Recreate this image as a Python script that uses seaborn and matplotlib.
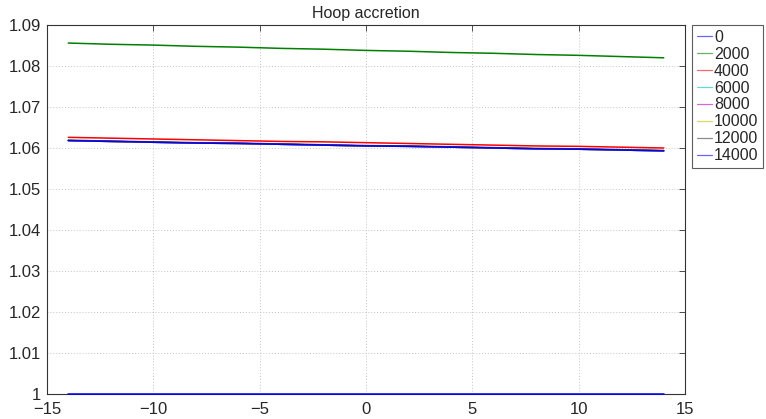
import numpy as np
import pandas as pd
import seaborn as sns
import matplotlib
matplotlib.use("Agg")
import matplotlib.pyplot as plt
from matplotlib.lines import Line2D

sns.set_style("white")
plt.rcParams["font.family"] = ["Liberation Sans", "DejaVu Sans"]

# Hoop accretion per load case, sampled across the position range
positions = [-14, -12, -10, -8, -6, -4, -2, 0, 2, 4, 6, 8, 10, 12, 14]
load_cases = ["0", "2000", "4000", "6000", "8000", "10000", "12000", "14000"]

hoop_0 = [1.0000] * 15
hoop_2000 = [1.0856, 1.0853, 1.0851, 1.0848, 1.0846, 1.0843, 1.0841, 1.0838,
             1.0836, 1.0833, 1.0831, 1.0828, 1.0826, 1.0823, 1.0820]
hoop_4000 = [1.0626, 1.0624, 1.0622, 1.0620, 1.0618, 1.0616, 1.0615, 1.0613,
             1.0611, 1.0609, 1.0607, 1.0605, 1.0604, 1.0602, 1.0600]
hoop_6000 = [1.0618, 1.0616, 1.0614, 1.0612, 1.0611, 1.0609, 1.0607, 1.0605,
             1.0604, 1.0602, 1.0600, 1.0598, 1.0597, 1.0595, 1.0593]
hoop_8000 = hoop_6000
hoop_10000 = hoop_6000
hoop_12000 = [1.0619, 1.0617, 1.0615, 1.0613, 1.0612, 1.0610, 1.0608, 1.0606,
              1.0605, 1.0603, 1.0601, 1.0599, 1.0598, 1.0596, 1.0594]
hoop_14000 = [1.0618, 1.0616, 1.0614, 1.0612, 1.0611, 1.0609, 1.0607, 1.0605,
              1.0604, 1.0602, 1.0600, 1.0598, 1.0597, 1.0595, 1.0593]

series = [hoop_0, hoop_2000, hoop_4000, hoop_6000, hoop_8000,
          hoop_10000, hoop_12000, hoop_14000]
colors = ["#0000ff", "#008000", "#ff0000", "#00bfbf", "#bf00bf",
          "#bfbf00", "#404040", "#0000ff"]

frames = []
for name, vals in zip(load_cases, series):
    frames.append(pd.DataFrame({"x": positions, "hoop": vals, "load": name}))
df = pd.concat(frames, ignore_index=True)

fig = plt.figure(figsize=(7.66, 4.19), dpi=100)
ax = fig.add_axes([47 / 766, 1 - 394 / 419, (685 - 47) / 766, (394 - 25) / 419])

sns.lineplot(data=df, x="x", y="hoop", hue="load", hue_order=load_cases,
             palette=dict(zip(load_cases, colors)), linewidth=1.1,
             legend=False, ax=ax, estimator=None, sort=False)
for ln in ax.lines:
    ln.set_clip_on(False)
    ln.set_zorder(3)

ax.set_xlim(-15, 15)
ax.set_ylim(1.0, 1.09)
ax.set_xticks(np.arange(-15, 16, 5))
ax.set_yticks(np.round(np.arange(1.0, 1.0901, 0.01), 2))
ax.set_xticklabels(["\u221215", "\u221210", "\u22125", "0", "5", "10", "15"])
ax.set_yticklabels(["1"] + [f"{v:.2f}" for v in np.arange(1.01, 1.0901, 0.01)])
ax.tick_params(direction="in", length=4, width=0.6, color="#333333",
               labelsize=12, top=True, right=True)
ax.tick_params(axis="x", pad=6)
ax.tick_params(axis="y", pad=4)
ax.grid(True, linestyle=(0, (1, 2)), color="#c4c4c4", linewidth=0.7)
for sp in ax.spines.values():
    sp.set_color("#333333")
    sp.set_linewidth(0.8)
ax.set_xlabel("")
ax.set_ylabel("")
ax.set_title("Hoop accretion", fontsize=11.5, pad=5)

handles = [Line2D([], [], color=c, linewidth=0.9, alpha=0.6) for c in colors]
leg = fig.legend(handles, load_cases, loc="upper left",
                 bbox_to_anchor=(692 / 766, 1 - 25 / 419),
                 frameon=True, fancybox=False, fontsize=11.5,
                 handlelength=0.95, handletextpad=0.12, borderpad=0.3,
                 labelspacing=0.12, borderaxespad=0)
leg.get_frame().set_edgecolor("#333333")
leg.get_frame().set_linewidth(0.8)

fig.savefig("out.png", dpi=100)
